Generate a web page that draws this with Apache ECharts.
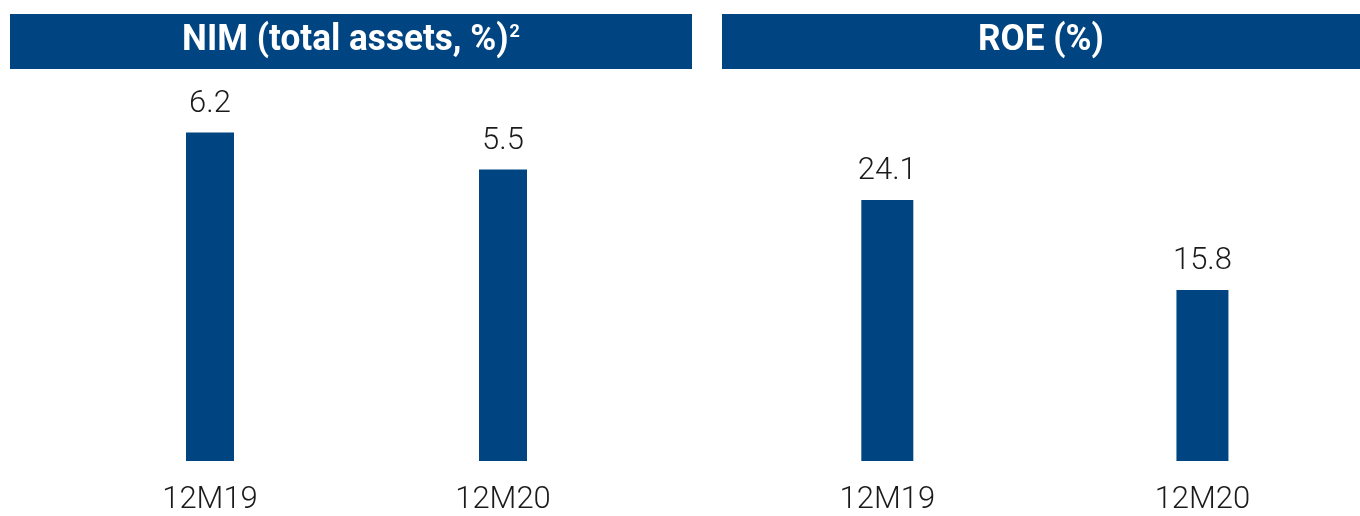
<!DOCTYPE html>
<html>
<head>
<meta charset="utf-8">
<script src="https://cdn.jsdelivr.net/npm/echarts@6/dist/echarts.min.js"></script>
<style>
  html, body { margin: 0; padding: 0; background: #fff; }
  #chart { width: 1360px; height: 516px; }
</style>
</head>
<body>
<div id="chart"></div>
<script>
// Periods shown on both panels
const periods = ['12M19', '12M20'];
// Net interest margin over total assets (%)
const nimValues = [6.2, 5.5];
// Return on equity (%)
const roeValues = [24.1, 15.8];
// Panel headings (main text, footnote mark)
const panelTitles = [['NIM (total assets, %)', '2'], ['ROE (%)', '']];

const NAVY = '#004481';
const INK = '#1b1b1b';
const FONT = 'Roboto';

const chart = echarts.init(document.getElementById('chart'), null, { renderer: 'canvas' });

function headerBar(x, w, title) {
  const txt = '{m|' + title[0] + '}' + (title[1] ? '{s|' + title[1] + '}' : '');
  return [
    { type: 'rect', shape: { x: x, y: 14, width: w, height: 55 }, style: { fill: NAVY }, silent: true },
    {
      type: 'text', x: x + w / 2, y: 41, scaleX: 0.95, originX: 0,
      style: {
        text: txt, fill: '#ffffff',
        align: 'center', verticalAlign: 'middle',
        rich: {
          m: { fontFamily: FONT, fontWeight: 'bold', fontSize: 37, fill: '#ffffff', color: '#ffffff' },
          s: { fontFamily: FONT, fontWeight: 'bold', fontSize: 19, fill: '#ffffff', color: '#ffffff',
               verticalAlign: 'top', padding: [0, 0, 16, 1] }
        }
      }
    }
  ];
}

function catAxis(gridIndex) {
  return {
    type: 'category', gridIndex: gridIndex, data: periods,
    axisLine: { show: false }, axisTick: { show: false },
    axisLabel: { color: INK, fontFamily: FONT, fontWeight: 300, fontSize: 31, margin: 24 }
  };
}

function valAxis(gridIndex, max) {
  return {
    type: 'value', gridIndex: gridIndex, min: 0, max: max,
    show: false, splitLine: { show: false }
  };
}

function barSeries(idx, values, width) {
  return {
    type: 'bar', xAxisIndex: idx, yAxisIndex: idx, data: values,
    barWidth: width,
    itemStyle: { color: NAVY },
    label: {
      show: true, position: 'top', distance: 13,
      color: INK, fontFamily: FONT, fontWeight: 300, fontSize: 31,
      formatter: p => p.value.toFixed(1)
    },
    silent: true
  };
}

chart.setOption({
  animation: false,
  backgroundColor: '#ffffff',
  grid: [
    { left: 63.5, width: 586, top: 90.1, height: 374.9 },
    { left: 729.75, width: 633, top: 136.1, height: 324.9 }
  ],
  xAxis: [catAxis(0), catAxis(1)],
  yAxis: [valAxis(0, 7), valAxis(1, 30)],
  series: [barSeries(0, nimValues, 48), barSeries(1, roeValues, 52)],
  graphic: [].concat(headerBar(10, 682, panelTitles[0]), headerBar(722, 638, panelTitles[1]))
});
</script>
</body>
</html>
